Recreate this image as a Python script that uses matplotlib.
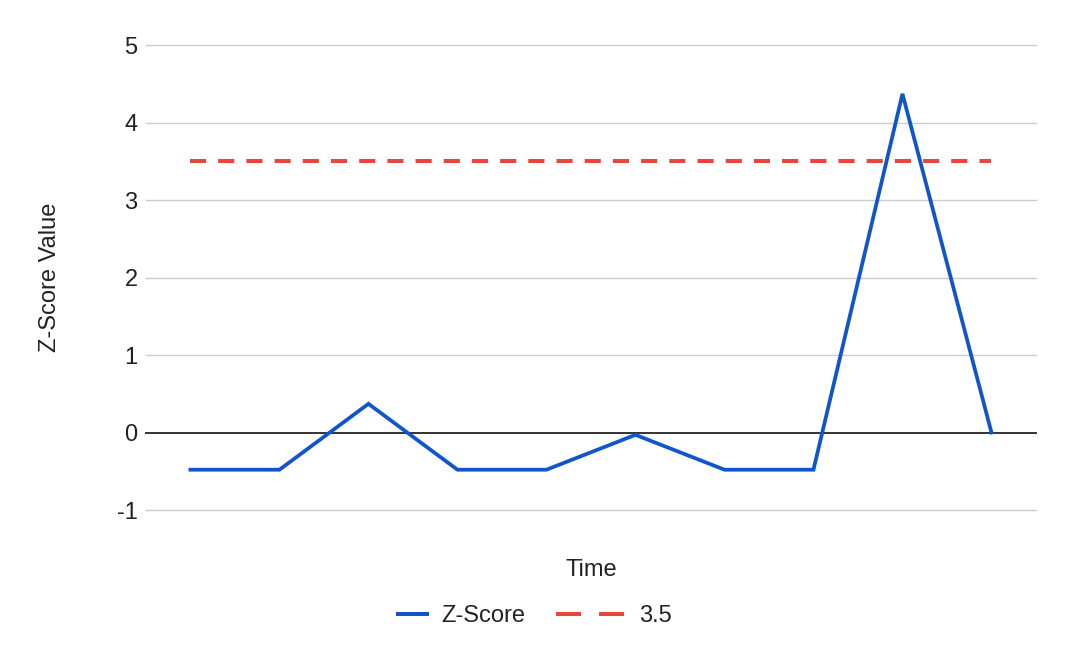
import matplotlib
matplotlib.use("Agg")
import matplotlib.pyplot as plt
from matplotlib.lines import Line2D
from matplotlib.legend_handler import HandlerLine2D

plt.rcParams["font.family"] = ["Liberation Sans", "DejaVu Sans"]

# data
time_points = list(range(10))
z_scores = [-0.48, -0.48, 0.37, -0.48, -0.48, -0.03, -0.48, -0.48, 4.37, 0.0]
threshold = 3.5
y_ticks = [-1, 0, 1, 2, 3, 4, 5]

BLUE = "#1155cc"
RED = "#e8453c"
TEXT = "#222222"
FS = 17


class ShortLineHandler(HandlerLine2D):
    # google style: the solid series swatch is shorter than the dashed one
    def create_artists(self, legend, orig_handle, xdescent, ydescent, width, height, fontsize, trans):
        short = width * 0.42
        arts = super().create_artists(legend, orig_handle, xdescent - (width - short), ydescent,
                                      short, height, fontsize, trans)
        return arts


fig = plt.figure(figsize=(10.7, 6.62), dpi=100)
ax = fig.add_axes([0.1364, 0.2296, 0.8318, 0.7024])

ax.plot(time_points, z_scores, color=BLUE, linewidth=2.7, zorder=3, solid_joinstyle="miter")
ax.plot([time_points[0], time_points[-1]], [threshold, threshold], color=RED,
        linewidth=2.9, dashes=(4, 3), zorder=2)

ax.set_xlim(-0.5, 9.5)
ax.set_ylim(-1, 5)
ax.set_yticks(y_ticks)
ax.set_yticklabels([str(t) for t in y_ticks])
ax.set_xticks([])
ax.tick_params(axis="y", length=0, pad=6, labelsize=FS, labelcolor=TEXT)
for s in ax.spines.values():
    s.set_visible(False)
for t in y_ticks:
    if t == 0:
        ax.axhline(t, color="#333333", linewidth=1.4, zorder=1, clip_on=False)
    else:
        ax.axhline(t, color="#cccccc", linewidth=1.0, zorder=0, clip_on=False)

ax.set_xlabel("Time", fontsize=FS, color=TEXT, labelpad=35)
ax.set_ylabel("Z-Score Value", fontsize=FS, color=TEXT, labelpad=40)

h1 = Line2D([], [], color=BLUE, linewidth=2.9)
h2 = Line2D([], [], color=RED, linewidth=2.9, dashes=(6.2, 4.5))
fig.legend([h1, h2], ["Z-Score", "3.5"], loc="center", bbox_to_anchor=(0.4813, 1 - 616 / 662),
           ncol=2, frameon=False, fontsize=FS, handlelength=2.9, handletextpad=0.6,
           columnspacing=1.3, labelcolor=TEXT, handler_map={h1: ShortLineHandler()})

fig.savefig("out.png", dpi=100)
